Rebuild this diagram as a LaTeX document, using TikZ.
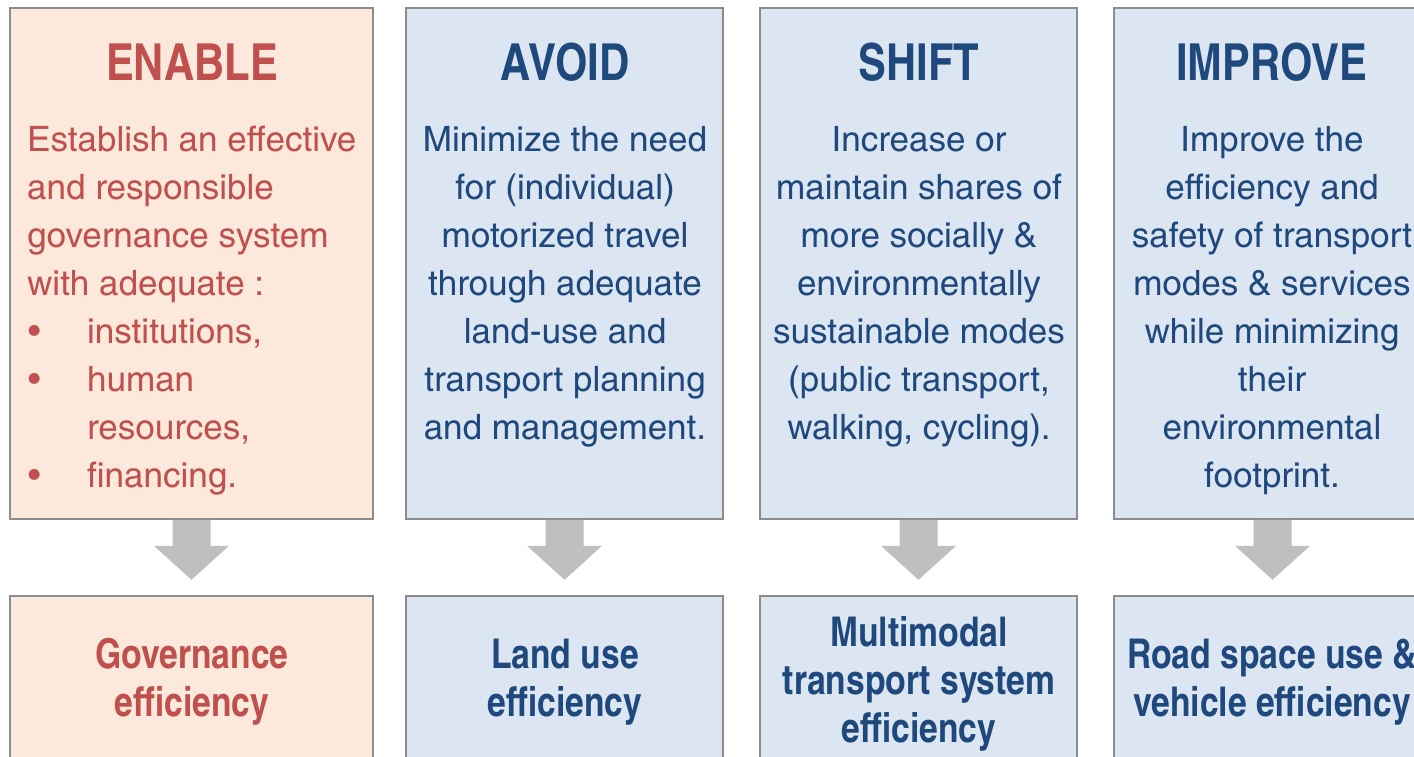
\documentclass[tikz,border=0pt]{standalone}
\usepackage{fontspec}
\setmainfont{texgyreheroscn}[Extension=.otf, UprightFont=*-regular, BoldFont=*-bold]
\newfontfamily\bodyfont{texgyreheroscn}[Extension=.otf, UprightFont=*-regular, BoldFont=*-bold, FakeStretch=1.22]
\definecolor{redtxt}{HTML}{C0504D}
\definecolor{peach}{HTML}{FCE9DB}
\definecolor{bluefill}{HTML}{DCE6F2}
\definecolor{bluetxt}{HTML}{1F497D}
\definecolor{bordergray}{HTML}{8C8C8C}
\definecolor{arrowgray}{HTML}{BFBFBF}
\tikzset{
  topbox/.style={draw=bordergray, line width=1.6pt, minimum width=#1, minimum height=511, inner sep=0pt},
  botbox/.style={draw=bordergray, line width=1.6pt, minimum width=#1, minimum height=166, inner sep=0pt},
  redbox/.style={fill=peach},
  bluebox/.style={fill=bluefill},
  title/.style={font=\fontsize{51}{60}\selectfont\bfseries, inner sep=0pt, anchor=center},
  body/.style={font=\bodyfont\fontsize{35}{48}\selectfont, inner sep=0pt, align=center, anchor=north},
  result/.style={font=\fontsize{41}{48}\selectfont\bfseries, inner sep=0pt, align=center, anchor=north},
  blockarrow/.style={fill=arrowgray}
}
\newcommand\blkarrow[1]{%
  \fill[blockarrow] ([xshift=-19pt]#1.south) -- ++(0,26) -- ++(-18.5,0) -- ++(37.5,34) -- ++(37.5,-34) -- ++(-18.5,0) -- ([xshift=19pt]#1.south) -- cycle;}
\begin{document}
\begin{tikzpicture}[x=1pt,y=-1pt]
\useasboundingbox (0,0) rectangle (1414,756);
% top boxes
\node[topbox=363, redbox] (t1) at (191.5,263.5) {};
\node[topbox=317, bluebox] (t2) at (564.5,263.5) {};
\node[topbox=317, bluebox] (t3) at (918.5,263.5) {};
\node[topbox=317, bluebox] (t4) at (1272.5,263.5) {};
% bottom boxes
\node[botbox=363, redbox] (b1) at (191.5,679) {};
\node[botbox=317, bluebox] (b2) at (564.5,679) {};
\node[botbox=317, bluebox] (b3) at (918.5,679) {};
\node[botbox=317, bluebox] (b4) at (1272.5,679) {};
% arrows
\blkarrow{t1}
\blkarrow{t2}
\blkarrow{t3}
\blkarrow{t4}
% titles
\node[title, text=redtxt] (h1) at (192,62) {ENABLE};
\node[title, text=bluetxt] (h2) at (565,62) {AVOID};
\node[title, text=bluetxt] (h3) at (919,62) {SHIFT};
\node[title, text=bluetxt] (h4) at (1272,62) {IMPROVE};
% bodies
\node[body, align=left, anchor=north west, text=redtxt] (d1) at (27,121) {\rule{0pt}{30pt}Establish an effective\\and responsible\\governance system\\with adequate :\\\makebox[60pt][l]{\hspace*{1pt}•}institutions,\\\makebox[60pt][l]{\hspace*{1pt}•}human\\\hspace*{60pt}resources,\\\makebox[60pt][l]{\hspace*{1pt}•}financing.};
\node[body, text=bluetxt] (d2) at (565,121) {\rule{0pt}{30pt}Minimize the need\\for (individual)\\motorized travel\\through adequate\\land-use and\\transport planning\\and management.};
\node[body, text=bluetxt] (d3) at (919,121) {\rule{0pt}{30pt}Increase or\\maintain shares of\\more socially \&\\environmentally\\sustainable modes\\(public transport,\\walking, cycling).};
\node[body, text=bluetxt] (d4) at (1272,121) {\rule{0pt}{30pt}Improve the\\efficiency and\\safety of transport\\modes \& services\\while minimizing\\their\\environmental\\footprint.};
% results
\node[result, text=redtxt] (r1) at (192,634) {\rule{0pt}{34pt}Governance\\efficiency};
\node[result, text=bluetxt] (r2) at (565,634) {\rule{0pt}{34pt}Land use\\efficiency};
\node[result, text=bluetxt] (r3) at (919,612) {\rule{0pt}{34pt}Multimodal\\transport system\\efficiency};
\node[result, text=bluetxt] (r4) at (1272,634) {\rule{0pt}{34pt}Road space use \&\\vehicle efficiency};
\end{tikzpicture}
\end{document}
